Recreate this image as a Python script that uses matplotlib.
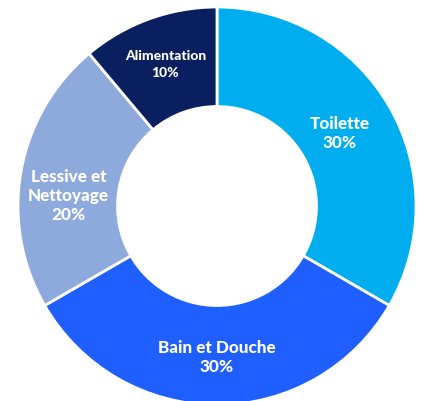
import matplotlib
matplotlib.use("Agg")
import matplotlib.pyplot as plt

categories = ["Toilette", "Bain et Douche", "Lessive et\nNettoyage", "Alimentation"]
values = [30, 30, 20, 10]
colors = ["#00AEEF", "#1F5FFF", "#8EA9DB", "#0A1F5F"]

# label anchor positions (data coords, radius=1)
label_pos = [(0.615, 0.37), (0.0, -0.755), (-0.745, 0.055), (-0.26, 0.715)]

W, H = 421, 402
cx, cy, R = 217, 207, 199
fig = plt.figure(figsize=(W / 100, H / 100), dpi=100)
ax = fig.add_axes([0, 0, 1, 1])
ax.pie(values, colors=colors, startangle=90, counterclock=False, radius=1,
       wedgeprops=dict(width=0.5, edgecolor="white", linewidth=2))
ax.set_xlim(-cx / R, (W - cx) / R)
ax.set_ylim(-(H - cy) / R, cy / R)
ax.set_aspect("equal")
ax.axis("off")

for cat, v, (x, y) in zip(categories, values, label_pos):
    fs = 10 if cat == "Alimentation" else 12.3
    ls = 1.45 if cat == "Alimentation" else 1.22
    ax.text(x, y, f"{cat}\n{v}%", ha="center", va="center", color="white",
            fontsize=fs, fontweight=900, family="Lato", linespacing=ls)

fig.savefig("out.png", dpi=100)
